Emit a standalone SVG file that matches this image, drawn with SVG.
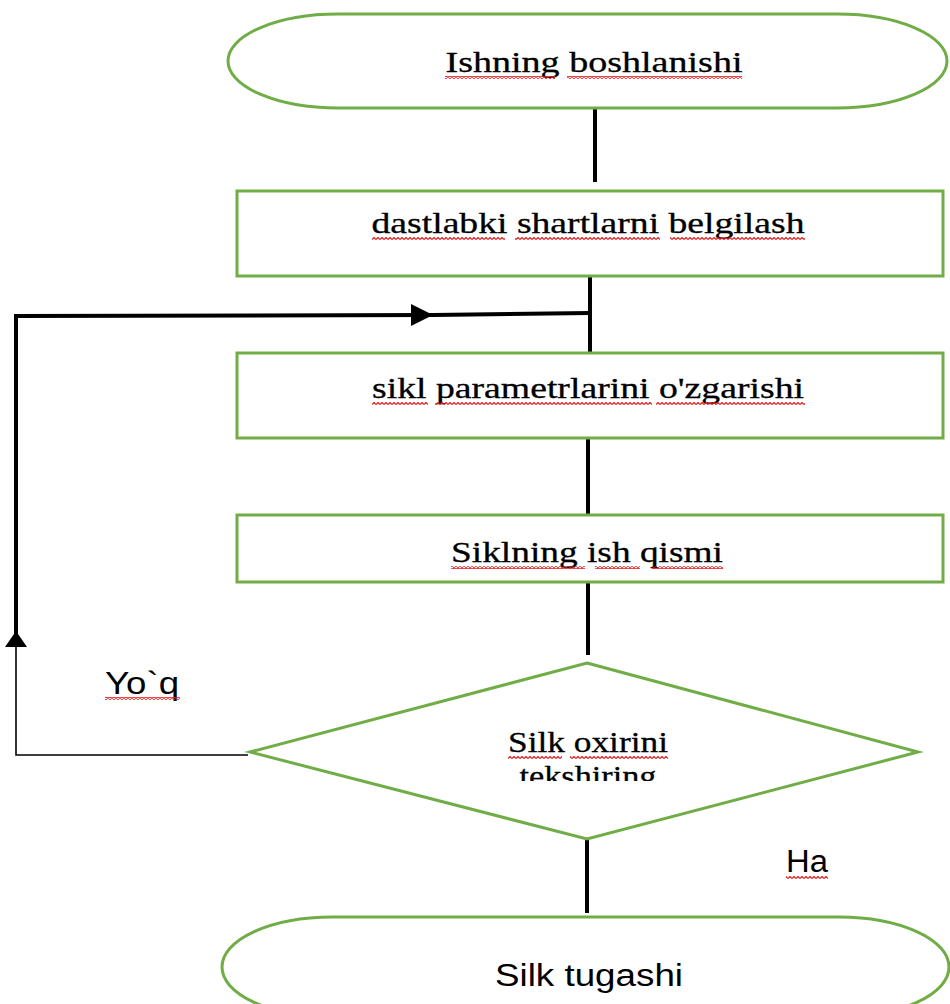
<svg xmlns="http://www.w3.org/2000/svg" width="950" height="1004" viewBox="0 0 950 1004">
<style>
.shape{fill:#fff;stroke:#70ad47;stroke-width:3}
.t{font-family:"Liberation Serif","Times New Roman",serif;font-size:30px;fill:#000;stroke:#000;stroke-width:0.3;text-anchor:middle}
.s{font-family:"Liberation Sans",Arial,sans-serif;font-size:31px;fill:#000}
.thick{stroke:#000;stroke-width:4;fill:none}
.thin{stroke:#000;stroke-width:1.6;fill:none}
.sq{fill:url(#wave)}
</style>
<defs>
<pattern id="wave" patternUnits="userSpaceOnUse" width="4" height="3">
<path d="M0,2.5 L2,0.5 L4,2.5" stroke="#e8191b" stroke-width="1.2" fill="none"/>
</pattern>
<clipPath id="clipDia"><rect x="0" y="0" width="950" height="781"/></clipPath>
</defs>
<rect width="950" height="1004" fill="#fff"/>
<g id="connectors">
<line class="thick" x1="595" y1="108" x2="595" y2="182"/>
<line class="thick" x1="590" y1="276" x2="590" y2="352"/>
<line class="thick" x1="588" y1="438" x2="588" y2="515"/>
<line class="thick" x1="588" y1="582" x2="588" y2="655"/>
<line class="thick" x1="587" y1="838" x2="587" y2="913"/>
<polyline class="thick" points="16,638 16,316 433,315 590,313"/>
<polygon points="433,315 411,304 411,326" fill="#000"/>
<polyline class="thin" points="248,755 16,755 16,640"/>
<polygon points="16,631 5,647 27,647" fill="#000"/>
</g>
<g id="start">
<rect class="shape" x="228" y="14" width="719" height="94" rx="110" ry="47"/>
<text class="t" x="594" y="72" textLength="297" lengthAdjust="spacingAndGlyphs">Ishning boshlanishi</text>
<rect class="sq" x="445" y="76" width="110" height="3"/>
<rect class="sq" x="567" y="76" width="175" height="3"/>
</g>
<g id="init">
<rect class="shape" x="237" y="191" width="706" height="85"/>
<text class="t" x="588" y="233" textLength="433" lengthAdjust="spacingAndGlyphs">dastlabki shartlarni belgilash</text>
<rect class="sq" x="372" y="237" width="133" height="3"/>
<rect class="sq" x="515" y="237" width="145" height="3"/>
<rect class="sq" x="670" y="237" width="135" height="3"/>
</g>
<g id="params">
<rect class="shape" x="237" y="353" width="706" height="85"/>
<text class="t" x="588" y="398" textLength="432" lengthAdjust="spacingAndGlyphs">sikl parametrlarini o'zgarishi</text>
<rect class="sq" x="372" y="402" width="56" height="3"/>
<rect class="sq" x="435" y="402" width="217" height="3"/>
<rect class="sq" x="656" y="402" width="149" height="3"/>
</g>
<g id="body">
<rect class="shape" x="237" y="515" width="706" height="67"/>
<text class="t" x="587" y="562" textLength="272" lengthAdjust="spacingAndGlyphs">Siklning ish qismi</text>
<rect class="sq" x="451" y="566" width="134" height="3"/>
<rect class="sq" x="595" y="566" width="45" height="3"/>
<rect class="sq" x="652" y="566" width="71" height="3"/>
</g>
<g id="check">
<polygon class="shape" points="587,663 918,752 587,839 250,752"/>
<text class="t" x="588" y="752" textLength="160" lengthAdjust="spacingAndGlyphs">Silk oxirini</text>
<g clip-path="url(#clipDia)">
<text class="t" x="588" y="786" textLength="137" lengthAdjust="spacingAndGlyphs">tekshiring</text>
</g>
<rect class="sq" x="508" y="756" width="54" height="3"/>
<rect class="sq" x="570" y="756" width="98" height="3"/>
</g>
<g id="end">
<rect class="shape" x="222" y="917" width="727" height="100" rx="110" ry="50"/>
<text class="s" x="589" y="986" text-anchor="middle" textLength="188" lengthAdjust="spacingAndGlyphs">Silk tugashi</text>
</g>
<g id="label-no">
<text class="s" x="105" y="694" textLength="74" lengthAdjust="spacingAndGlyphs">Yo`q</text>
<rect class="sq" x="105" y="697" width="75" height="3"/>
</g>
<g id="label-yes">
<text class="s" x="786" y="872" textLength="42" lengthAdjust="spacingAndGlyphs">Ha</text>
<rect class="sq" x="786" y="876" width="42" height="3"/>
</g>
</svg>
